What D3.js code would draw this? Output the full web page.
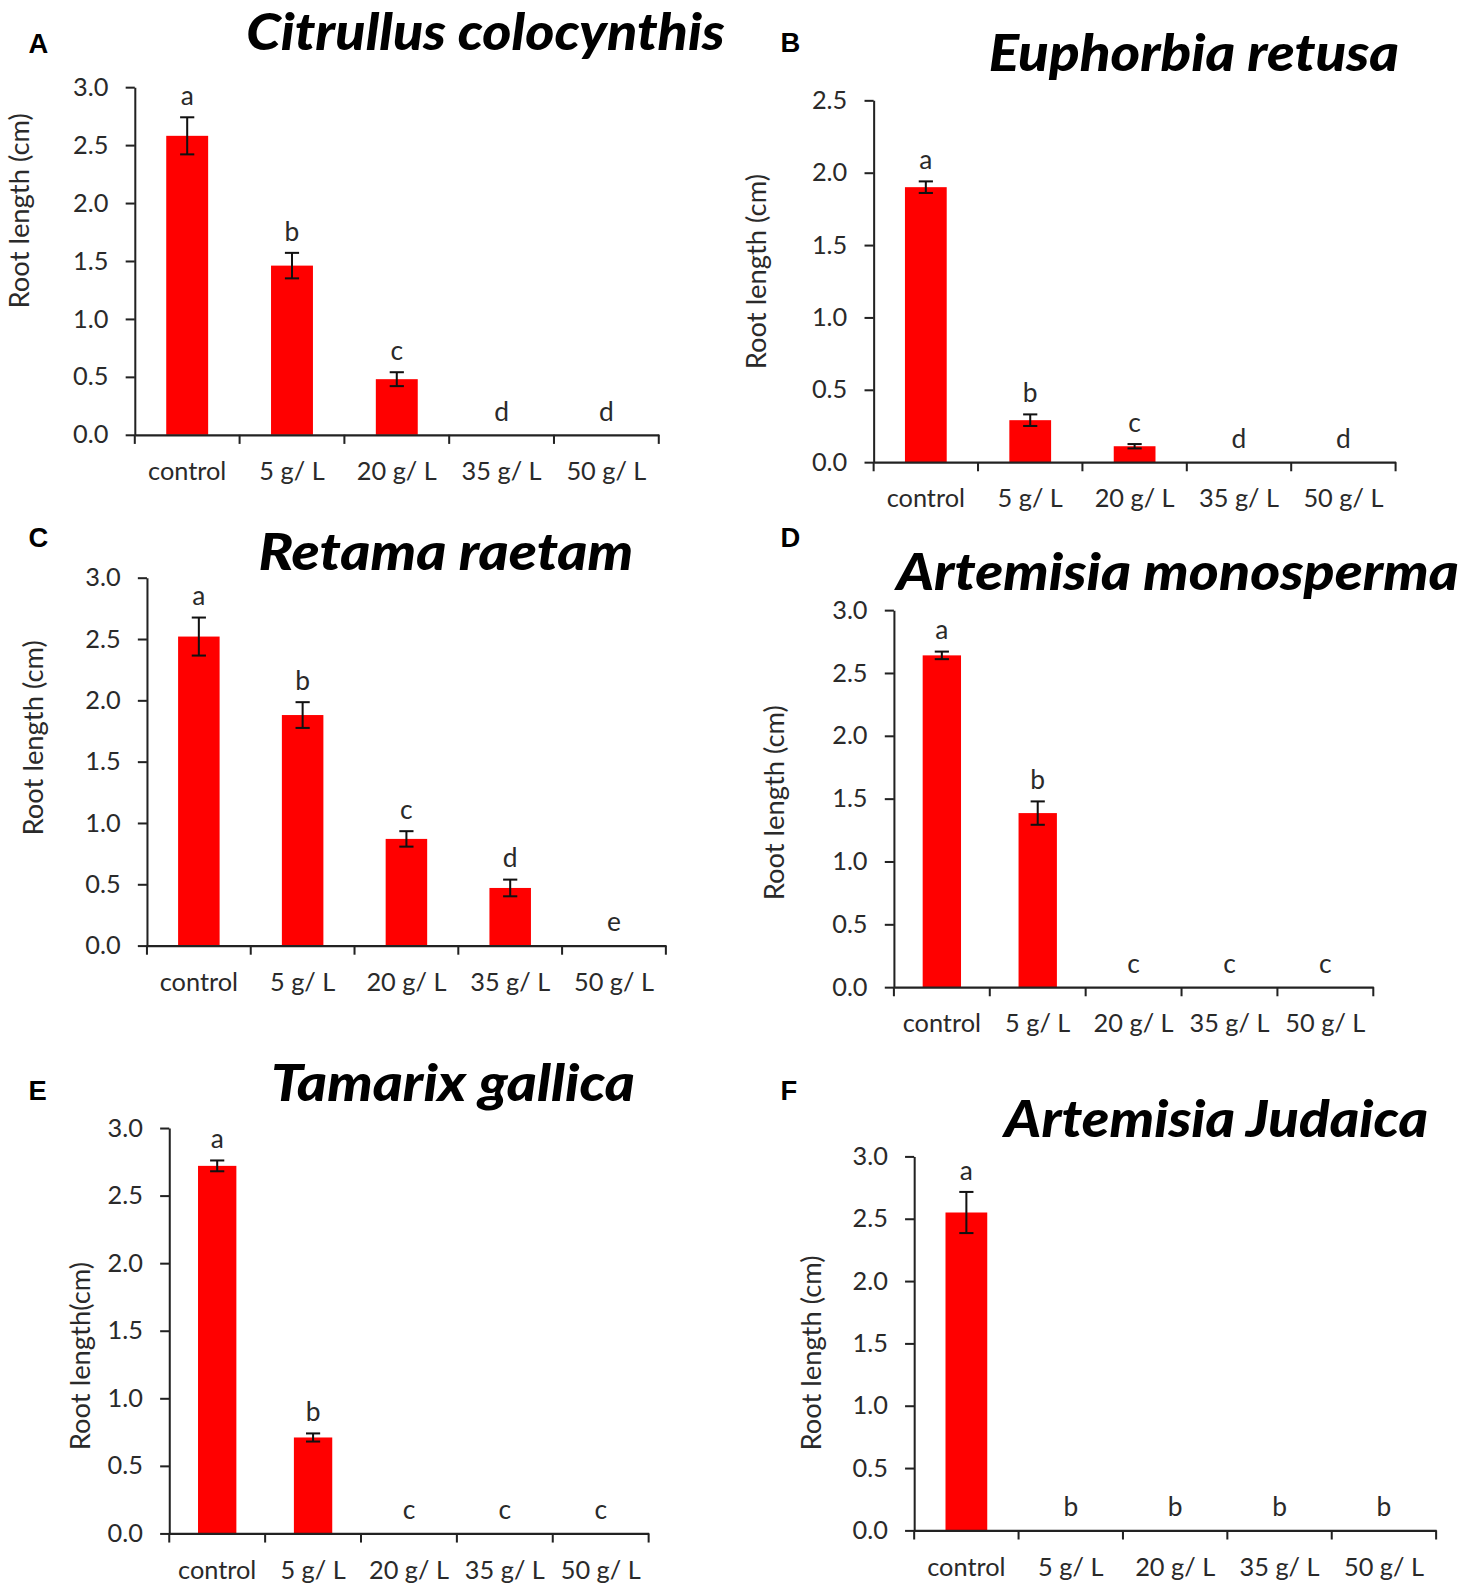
<!DOCTYPE html>
<html>
<head>
<meta charset="utf-8">
<script src="https://cdn.jsdelivr.net/npm/d3@7"></script>
<style>
  html, body { margin: 0; padding: 0; background: #fff; }
  svg { display: block; }
</style>
</head>
<body>
<svg id="chart" width="1464" height="1590"></svg>
<script>
// ---------- DATA ----------
const categories = ["control", "5 g/ L", "20 g/ L", "35 g/ L", "50 g/ L"];
const speciesNames = ["Citrullus colocynthis", "Euphorbia retusa", "Retama raetam",
                      "Artemisia monosperma", "Tamarix gallica", "Artemisia Judaica"];
const panelLetters = ["A", "B", "C", "D", "E", "F"];
const yAxisLabels = ["Root length (cm)", "Root length (cm)", "Root length (cm)",
                     "Root length (cm)", "Root length(cm)", "Root length (cm)"];
const yTicks30 = [0, 0.5, 1.0, 1.5, 2.0, 2.5, 3.0];
const yTicks25 = [0, 0.5, 1.0, 1.5, 2.0, 2.5];

const citrullusMeans = [2.58, 1.46, 0.48, 0, 0];
const citrullusErr   = [0.16, 0.11, 0.06, 0, 0];
const citrullusSig   = ["a", "b", "c", "d", "d"];

const euphorbiaMeans = [1.90, 0.29, 0.11, 0, 0];
const euphorbiaErr   = [0.04, 0.04, 0.015, 0, 0];
const euphorbiaSig   = ["a", "b", "c", "d", "d"];

const retamaMeans = [2.52, 1.88, 0.87, 0.47, 0];
const retamaErr   = [0.155, 0.105, 0.063, 0.068, 0];
const retamaSig   = ["a", "b", "c", "d", "e"];

const monospermaMeans = [2.64, 1.385, 0, 0, 0];
const monospermaErr   = [0.03, 0.093, 0, 0, 0];
const monospermaSig   = ["a", "b", "c", "c", "c"];

const tamarixMeans = [2.72, 0.71, 0, 0, 0];
const tamarixErr   = [0.04, 0.03, 0, 0, 0];
const tamarixSig   = ["a", "b", "c", "c", "c"];

const judaicaMeans = [2.55, 0, 0, 0, 0];
const judaicaErr   = [0.165, 0, 0, 0, 0];
const judaicaSig   = ["a", "b", "b", "b", "b"];

const seriesMeans = [citrullusMeans, euphorbiaMeans, retamaMeans, monospermaMeans, tamarixMeans, judaicaMeans];
const seriesErr   = [citrullusErr, euphorbiaErr, retamaErr, monospermaErr, tamarixErr, judaicaErr];
const seriesSig   = [citrullusSig, euphorbiaSig, retamaSig, monospermaSig, tamarixSig, judaicaSig];
const yTickSets   = [yTicks30, yTicks25, yTicks30, yTicks30, yTicks30, yTicks30];

// ---------- LAYOUT (positions / sizes) ----------
const layout = [
  {x0: 133, x1: 650, y0: 429, yTop: 86,  tcx: 479,  tby: 49,   tw: 472, lx: 28,  ly: 52,   ylx: 18,  yly: 208},
  {x0: 862, x1: 1377, y0: 456, yTop: 99, tcx: 1178, tby: 70,   tw: 405, lx: 770, ly: 51,   ylx: 745, yly: 268},
  {x0: 145, x1: 657, y0: 933, yTop: 570, tcx: 440,  tby: 562,  tw: 370, lx: 28,  ly: 540,  ylx: 32,  yly: 728},
  {x0: 882, x1: 1355, y0: 974, yTop: 602, tcx: 1162, tby: 582, tw: 555, lx: 770, ly: 540,  ylx: 763, yly: 792},
  {x0: 167, x1: 640, y0: 1513, yTop: 1113, tcx: 447, tby: 1086, tw: 359, lx: 28, ly: 1085, ylx: 78,  yly: 1338},
  {x0: 902, x1: 1417, y0: 1510, yTop: 1141, tcx: 1200, tby: 1122, tw: 418, lx: 770, ly: 1085, ylx: 800, yly: 1335}
];

const FONT = "Lato, 'Open Sans', sans-serif";
const AXIS_COLOR = "#222";
const TEXT_COLOR = "#2a2a2a";
const BAR_COLOR = "#ff0000";

const svg = d3.select("#chart")
  .attr("viewBox", `0 0 ${1464 / 1.0135} ${1590 / 1.0135}`);

layout.forEach((L, i) => {
  const ticks = yTickSets[i];
  const yMax = ticks[ticks.length - 1];
  const means = seriesMeans[i], errs = seriesErr[i], sigs = seriesSig[i];
  const data = categories.map((c, k) => ({cat: c, v: means[k], e: errs[k], s: sigs[k]}));

  const x = d3.scaleBand().domain(categories).range([L.x0, L.x1]).paddingInner(0).paddingOuter(0);
  const y = d3.scaleLinear().domain([0, yMax]).range([L.y0, L.yTop]);
  const g = svg.append("g");

  // bars
  const barW = x.bandwidth() * 0.4;
  g.selectAll("rect.bar").data(data.filter(d => d.v > 0)).join("rect")
    .attr("class", "bar")
    .attr("x", d => x(d.cat) + x.bandwidth() / 2 - barW / 2)
    .attr("width", barW)
    .attr("y", d => y(d.v))
    .attr("height", d => y(0) - y(d.v))
    .attr("fill", BAR_COLOR);

  // error bars
  const eb = g.selectAll("g.err").data(data.filter(d => d.e > 0)).join("g").attr("class", "err")
    .attr("stroke", "#111").attr("stroke-width", 2);
  const cx = d => x(d.cat) + x.bandwidth() / 2;
  eb.append("line").attr("x1", cx).attr("x2", cx).attr("y1", d => y(d.v + d.e)).attr("y2", d => y(d.v - d.e));
  eb.append("line").attr("x1", d => cx(d) - 7).attr("x2", d => cx(d) + 7).attr("y1", d => y(d.v + d.e)).attr("y2", d => y(d.v + d.e));
  eb.append("line").attr("x1", d => cx(d) - 7).attr("x2", d => cx(d) + 7).attr("y1", d => y(d.v - d.e)).attr("y2", d => y(d.v - d.e));

  // significance letters
  g.selectAll("text.sig").data(data).join("text")
    .attr("class", "sig")
    .attr("x", cx)
    .attr("y", d => y(d.v + d.e) - (d.v > 0 ? 12 : 14))
    .attr("text-anchor", "middle")
    .attr("font-family", FONT).attr("font-size", 26)
    .attr("fill", TEXT_COLOR)
    .text(d => d.s);

  // y axis
  const yAxis = d3.axisLeft(y).tickValues(ticks).tickFormat(d3.format(".1f"))
    .tickSizeInner(9).tickSizeOuter(0).tickPadding(17);
  const ya = g.append("g").attr("transform", `translate(${L.x0},0)`).call(yAxis);
  ya.select(".domain").attr("stroke", AXIS_COLOR).attr("stroke-width", 2);
  ya.selectAll(".tick line").attr("stroke", AXIS_COLOR).attr("stroke-width", 2);
  ya.selectAll(".tick text").attr("font-family", FONT).attr("font-size", 25).attr("fill", TEXT_COLOR);

  // x axis (category labels)
  const xAxis = d3.axisBottom(x).tickSize(0).tickPadding(27);
  const xa = g.append("g").attr("transform", `translate(0,${L.y0})`).call(xAxis);
  xa.select(".domain").attr("stroke", AXIS_COLOR).attr("stroke-width", 2.2);
  xa.selectAll(".tick text").attr("font-family", FONT).attr("font-size", 25).attr("fill", TEXT_COLOR);
  // boundary ticks
  const bounds = categories.map(c => x(c)).concat([x.range()[1]]);
  g.selectAll("line.bt").data(bounds).join("line")
    .attr("class", "bt")
    .attr("x1", d => d).attr("x2", d => d)
    .attr("y1", L.y0).attr("y2", L.y0 + 9)
    .attr("stroke", AXIS_COLOR).attr("stroke-width", 2);

  // y axis title
  g.append("text")
    .attr("transform", `translate(${L.ylx},${L.yly}) rotate(-90)`)
    .attr("text-anchor", "middle").attr("dominant-baseline", "central")
    .attr("font-family", FONT).attr("font-size", 27).attr("fill", TEXT_COLOR)
    .text(yAxisLabels[i]);

  // species title
  g.append("text")
    .attr("x", L.tcx - L.tw / 2).attr("y", L.tby)
    .attr("font-family", FONT).attr("font-size", 51)
    .attr("font-weight", 900).attr("font-style", "italic")
    .attr("fill", "#000")
    .attr("textLength", L.tw).attr("lengthAdjust", "spacingAndGlyphs")
    .text(speciesNames[i]);

  // panel letter
  g.append("text")
    .attr("x", L.lx).attr("y", L.ly)
    .attr("font-family", "'Liberation Sans', Arial, sans-serif")
    .attr("font-weight", "bold").attr("font-size", 27).attr("fill", "#000")
    .text(panelLetters[i]);
});
</script>
</body>
</html>
